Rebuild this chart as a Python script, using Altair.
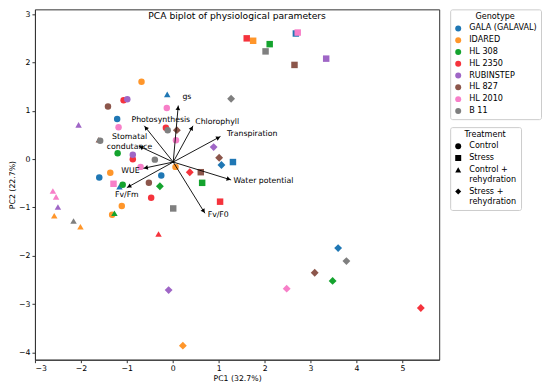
import math
import altair as alt
import pandas as pd

# ---------------- data ----------------
genotypes = ["GALA (GALAVAL)", "IDARED", "HL 308", "HL 2350", "RUBINSTEP", "HL 827", "HL 2010", "B 11"]
genotype_colors = ["#1f77b4", "#ff962a", "#14a32e", "#f5333c", "#9f66c6", "#8c564b", "#f77fc8", "#7f7f7f"]
treatments = ["Control", "Stress", "Control + rehydration", "Stress + rehydration"]
treatment_shapes = ["circle", "square", "triangle-up", "diamond"]

# observations (score plot), grouped by genotype
obs_genotype = (["GALA (GALAVAL)"] * 9 + ["IDARED"] * 9 + ["HL 308"] * 7 + ["HL 2350"] * 9
                + ["RUBINSTEP"] * 7 + ["HL 827"] * 8 + ["HL 2010"] * 9 + ["B 11"] * 8)
obs_treatment = [
    # GALA
    "Stress", "Stress", "Control", "Control", "Control", "Control + rehydration", "Control + rehydration",
    "Stress + rehydration", "Stress + rehydration",
    # IDARED
    "Stress", "Control", "Control", "Control", "Control", "Control", "Control + rehydration",
    "Control + rehydration", "Stress + rehydration",
    # HL 308
    "Stress", "Stress", "Control", "Control", "Control + rehydration", "Stress + rehydration", "Stress + rehydration",
    # HL 2350
    "Stress", "Stress", "Control", "Control", "Control", "Control", "Control + rehydration",
    "Stress + rehydration", "Stress + rehydration",
    # RUBINSTEP
    "Stress", "Control", "Control", "Control + rehydration", "Control + rehydration",
    "Stress + rehydration", "Stress + rehydration",
    # HL 827
    "Stress", "Stress", "Control", "Control", "Control + rehydration", "Stress + rehydration",
    "Stress + rehydration", "Stress + rehydration",
    # HL 2010
    "Stress", "Stress", "Control", "Control", "Control", "Control", "Control + rehydration",
    "Control + rehydration", "Stress + rehydration",
    # B 11
    "Stress", "Stress", "Control", "Control", "Control", "Control + rehydration",
    "Stress + rehydration", "Stress + rehydration",
]
obs_pc1 = [
    2.68, 1.31, -1.21, -0.25, -1.60, -0.12, -1.16, 1.06, 3.60,
    1.75, -0.68, -1.36, -1.11, -1.32, 0.06, -2.58, -2.01, 0.22,
    2.11, 0.64, -1.20, -1.09, -1.27, -0.28, 3.48,
    1.61, 1.03, -1.07, -0.15, -0.87, -0.47, -0.31, 0.37, 5.40,
    3.34, -0.99, -0.87, -2.05, -2.50, 0.89, -0.09,
    2.65, 0.61, -1.41, -0.52, -1.61, 0.09, 1.01, 3.09,
    2.72, -1.29, -0.13, -1.18, 0.07, -0.70, -2.61, -2.54, 2.48,
    2.02, 0.01, -0.11, -1.58, -0.39, -2.16, 1.27, 3.78,
]
obs_pc2 = [
    2.60, -0.06, 0.83, -0.34, -0.38, 1.34, -0.57, -0.12, -1.84,
    2.45, 1.60, -0.28, -0.97, -1.15, -0.16, -1.17, -1.40, -3.86,
    2.38, -0.49, 0.12, -0.53, -1.12, -0.56, -2.52,
    2.50, -0.88, 1.22, 0.65, 0.00, -0.80, -1.55, -0.27, -3.08,
    2.08, 1.24, 0.09, 0.71, -0.99, 0.25, -2.71,
    1.95, -0.27, 1.09, -0.49, 0.40, 0.60, 0.03, -2.35,
    2.62, -0.51, 1.06, 0.66, 0.39, -0.16, -0.66, -0.78, -2.68,
    2.23, -1.02, 0.60, 0.38, -0.01, -1.28, 1.25, -2.11,
]

# loadings (arrows)
origin_pc1, origin_pc2 = 0.01, -0.06
var_names = ["gs", "Photosynthesis", "Chlorophyll", "Transpiration", "Stomatal\ncondutance",
             "WUE", "Fv/Fm", "Water potential", "Fv/F0"]
var_tip_pc1 = [0.12, -0.62, 0.44, 1.04, -0.74, -0.64, -1.00, 1.27, 0.70]
var_tip_pc2 = [1.11, 0.69, 0.69, 0.47, 0.27, -0.19, -0.59, -0.43, -1.12]
var_label_pc1 = [0.21, -0.26, 0.49, 1.18, -0.94, -0.92, -1.00, 1.32, 0.76]
var_label_pc2 = [1.29, 0.81, 0.77, 0.52, 0.46, -0.25, -0.75, -0.45, -1.16]
var_label_align = ["left", "center", "left", "left", "center", "center", "center", "left", "left"]

x_ticks = [-3, -2, -1, 0, 1, 2, 3, 4, 5]
y_ticks = [-4, -3, -2, -1, 0, 1, 2, 3]
x_domain = [-3.0, 5.8]
y_domain = [-4.15, 3.1]

# ---------------- layout / style ----------------
W, H = 405, 351
FONT = "DejaVu Sans"
FS = 7.8
LFS = 8.1
sx = W / (x_domain[1] - x_domain[0])
sy = H / (y_domain[1] - y_domain[0])

obs = pd.DataFrame({"PC1": obs_pc1, "PC2": obs_pc2, "Genotype": obs_genotype, "Treatment": obs_treatment})

# arrow geometry derived from the loadings
head_back = 2.5
rows = []
for name, tx, ty, lx, ly, al in zip(var_names, var_tip_pc1, var_tip_pc2, var_label_pc1, var_label_pc2, var_label_align):
    dxp = (tx - origin_pc1) * sx
    dyp = (ty - origin_pc2) * sy
    L = math.hypot(dxp, dyp)
    rows.append({
        "name": name, "x0": origin_pc1, "y0": origin_pc2, "x1": tx, "y1": ty,
        "hx": tx - head_back * dxp / L / sx, "hy": ty - head_back * dyp / L / sy,
        "angle": math.degrees(math.atan2(dxp, dyp)) % 360,
        "lx": lx, "ly": ly, "align": al,
    })
arrows = pd.DataFrame(rows)

xs = alt.Scale(domain=x_domain, nice=False, zero=False)
ys = alt.Scale(domain=y_domain, nice=False, zero=False)

points = alt.Chart(obs).mark_point(filled=True, opacity=1, strokeWidth=0).encode(
    x=alt.X("PC1:Q", scale=xs, axis=alt.Axis(values=x_ticks, title="PC1 (32.7%)")),
    y=alt.Y("PC2:Q", scale=ys, axis=alt.Axis(values=y_ticks, title="PC2 (22.7%)")),
    color=alt.Color("Genotype:N", scale=alt.Scale(domain=genotypes, range=genotype_colors),
                    legend=alt.Legend(title="Genotype", symbolType="circle", orient="right")),
    shape=alt.Shape("Treatment:N", scale=alt.Scale(domain=treatments, range=treatment_shapes),
                    legend=alt.Legend(title="Treatment", symbolFillColor="black", symbolStrokeColor="black",
                                      labelExpr="split(replace(datum.label, ' + ', ' +|'), '|')")),
    size=alt.condition("datum.Treatment == 'Stress + rehydration'", alt.value(62), alt.value(42)),
)

lines = alt.Chart(arrows).mark_rule(color="black", strokeWidth=0.9).encode(
    x=alt.X("x0:Q", scale=xs), y=alt.Y("y0:Q", scale=ys), x2="x1:Q", y2="y1:Q",
)

heads = alt.Chart(arrows).mark_point(shape="triangle-up", filled=True, size=22, color="black", opacity=1).encode(
    x=alt.X("hx:Q", scale=xs), y=alt.Y("hy:Q", scale=ys), angle=alt.Angle("angle:Q", scale=None),
)

labels_left = alt.Chart(arrows).transform_filter("datum.align == 'left'").mark_text(
    align="left", baseline="middle", font=FONT, fontSize=FS, color="black"
).encode(x=alt.X("lx:Q", scale=xs), y=alt.Y("ly:Q", scale=ys), text="name:N")

labels_center = alt.Chart(arrows).transform_filter("datum.align == 'center'").mark_text(
    align="center", baseline="middle", font=FONT, fontSize=FS, color="black", lineBreak="\n"
).encode(x=alt.X("lx:Q", scale=xs), y=alt.Y("ly:Q", scale=ys), text="name:N")

title_txt = alt.Chart(pd.DataFrame({"t": ["PCA biplot of physiological parameters"]})).mark_text(
    align="center", baseline="middle", font=FONT, fontSize=9.2, color="black"
).encode(x=alt.value(W / 2), y=alt.value(7), text="t:N")

chart = alt.layer(points, lines, heads, labels_left, labels_center, title_txt).properties(
    width=W, height=H, padding={"left": 0, "top": 0, "right": 0, "bottom": 0}, background="white"
).configure_view(
    stroke="#333333", strokeWidth=1
).configure_axis(
    grid=False, domainColor="#333333", tickColor="#333333", tickSize=3,
    labelFont=FONT, labelFontSize=FS, labelColor="black", labelPadding=2,
    titleFont=FONT, titleFontSize=FS, titleFontWeight="normal", titleColor="black", titlePadding=2,
).configure_legend(
    titleFont=FONT, titleFontSize=LFS, titleFontWeight="normal", titleColor="black", titleAnchor="middle",
    titlePadding=3,
    labelFont=FONT, labelFontSize=LFS, labelColor="black",
    strokeColor="#cccccc", fillColor="white", cornerRadius=2, padding=4,
    symbolSize=36, symbolStrokeWidth=0, rowPadding=2.8, offset=11, labelOffset=7,
)

chart.save("out.html", embed_options={"renderer": "svg", "actions": False})
